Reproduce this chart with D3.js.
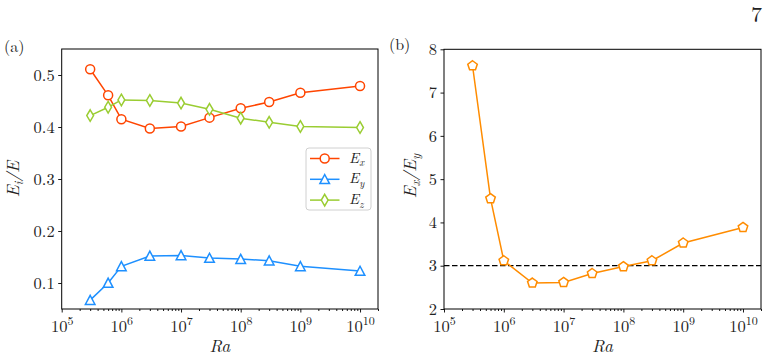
<!DOCTYPE html>
<html>
<head>
<meta charset="utf-8">
<script src="https://cdn.jsdelivr.net/npm/d3@7"></script>
<style>
  body { margin: 0; background: #fff; }
</style>
</head>
<body>
<div id="chart"></div>
<script>
// Rayleigh numbers (shared by both panels)
const ra = [3e5, 6e5, 1e6, 3e6, 1e7, 3e7, 1e8, 3e8, 1e9, 1e10];

// panel (a): energy fractions
const ex = [0.511, 0.461, 0.415, 0.397, 0.401, 0.418, 0.436, 0.448, 0.466, 0.479];
const ey = [0.067, 0.100, 0.132, 0.152, 0.153, 0.148, 0.146, 0.143, 0.132, 0.123];
const ez = [0.422, 0.438, 0.452, 0.451, 0.446, 0.434, 0.417, 0.409, 0.401, 0.399];

// panel (b): anisotropy ratio
const ratio = [7.62, 4.55, 3.115, 2.60, 2.615, 2.82, 2.98, 3.115, 3.525, 3.885];

const xTicks = [1e5, 1e6, 1e7, 1e8, 1e9, 1e10];
const yTicksA = [0.1, 0.2, 0.3, 0.4, 0.5];
const yTicksB = [2, 3, 4, 5, 6, 7, 8];

const width = 771, height = 360;
const serif = "Latin Modern Roman";

const svg = d3.select("#chart").append("svg")
    .attr("width", width)
    .attr("height", height)
    .attr("font-family", serif);

// marker shapes, roughly like matplotlib's o ^ d p
const markers = {
    circle: () => d3.symbol(d3.symbolCircle, Math.PI * 4.5 * 4.5)(),
    triangle: () => "M0,-4.8L-4.8,4.3L4.8,4.3Z",
    thinDiamond: () => "M0,-5.8L3.4,0L0,5.8L-3.4,0Z",
    pentagon: () => {
        const r = 5;
        const pts = d3.range(5).map(i => {
            const a = -Math.PI / 2 + i * 2 * Math.PI / 5;
            return [r * Math.cos(a), r * Math.sin(a)];
        });
        return "M" + pts.join("L") + "Z";
    }
};

const minorTicks = [];
for (let d = 5; d <= 10; d++) {
    for (let k = 2; k <= 9; k++) {
        const v = k * Math.pow(10, d);
        if (v <= 2e10) minorTicks.push(v);
    }
}

function drawPanel(left, right, top, bottom, yDomain, yTicks, yFmt) {
    const g = svg.append("g");
    const x = d3.scaleLog().domain([1e5, 2e10]).range([left, right]);
    const y = d3.scaleLinear().domain(yDomain).range([bottom, top]);

    // minor x ticks
    g.append("g")
        .attr("transform", `translate(0,${bottom})`)
        .call(d3.axisBottom(x).tickValues(minorTicks).tickSize(2).tickFormat(""))
        .call(a => a.select(".domain").remove());

    // major x ticks with 10^n labels
    const xa = g.append("g")
        .attr("transform", `translate(0,${bottom})`)
        .call(d3.axisBottom(x).tickValues(xTicks).tickSize(3.5).tickPadding(4).tickFormat(""));
    xa.select(".domain").remove();
    xa.selectAll(".tick text")
        .attr("font-size", 16.5)
        .attr("dy", "0.95em")
        .each(function (d) {
            const t = d3.select(this);
            t.append("tspan").text("10");
            t.append("tspan").attr("font-size", 12).attr("dy", -7).text(Math.round(Math.log10(d)));
        });

    const ya = g.append("g")
        .attr("transform", `translate(${left},0)`)
        .call(d3.axisLeft(y).tickValues(yTicks).tickSize(3.5).tickPadding(3.5).tickFormat(yFmt));
    ya.select(".domain").remove();
    ya.selectAll(".tick text").attr("font-size", 16.5);

    g.selectAll(".tick line").attr("stroke", "#000").attr("stroke-width", 0.9);

    // spines
    g.append("rect")
        .attr("x", left).attr("y", top)
        .attr("width", right - left).attr("height", bottom - top)
        .attr("fill", "none").attr("stroke", "#000").attr("stroke-width", 1);

    // x label
    g.append("text")
        .attr("x", (left + right) / 2).attr("y", 352)
        .attr("text-anchor", "middle")
        .attr("font-size", 17.5).attr("font-style", "italic")
        .text("Ra");

    return { g, x, y };
}

function drawSeries(p, values, color, shape) {
    const pts = ra.map((r, i) => [p.x(r), p.y(values[i])]);
    p.g.append("path")
        .attr("d", d3.line()(pts))
        .attr("fill", "none")
        .attr("stroke", color)
        .attr("stroke-width", 1.5);
    p.g.selectAll(null)
        .data(pts)
        .enter().append("path")
        .attr("transform", d => `translate(${d[0]},${d[1]})`)
        .attr("d", markers[shape]())
        .attr("fill", "#fff")
        .attr("stroke", color)
        .attr("stroke-width", 1.5);
}

// subscripted italic label, e.g. E_x
function subLabel(sel, base, sub, fs) {
    sel.append("tspan").attr("font-style", "italic").text(base);
    sel.append("tspan").attr("font-style", "italic").attr("font-size", fs * 0.7).attr("dy", fs * 0.25).text(sub);
}

// ---- panel (a)
const pa = drawPanel(61.7, 378, 49, 309, [0.05, 0.55], yTicksA, d3.format(".1f"));
drawSeries(pa, ex, "#ff4500", "circle");
drawSeries(pa, ey, "#1e90ff", "triangle");
drawSeries(pa, ez, "#9acd32", "thinDiamond");

const yla = svg.append("text")
    .attr("transform", "translate(19,179) rotate(-90)")
    .attr("text-anchor", "middle")
    .attr("font-size", 17.5);
subLabel(yla, "E", "i", 17.5);
yla.append("tspan").attr("font-style", "italic").attr("dy", -17.5 * 0.25).text("/E");

// legend
const legendItems = [
    { name: "x", color: "#ff4500", shape: "circle" },
    { name: "y", color: "#1e90ff", shape: "triangle" },
    { name: "z", color: "#9acd32", shape: "thinDiamond" }
];
const lg = svg.append("g");
lg.append("rect")
    .attr("x", 306).attr("y", 148)
    .attr("width", 65).attr("height", 62)
    .attr("rx", 3)
    .attr("fill", "#fff").attr("fill-opacity", 0.8)
    .attr("stroke", "#d0d0d0").attr("stroke-width", 1);
legendItems.forEach((d, i) => {
    const yy = 158.5 + i * 20.8;
    lg.append("line")
        .attr("x1", 310).attr("x2", 339.5)
        .attr("y1", yy).attr("y2", yy)
        .attr("stroke", d.color).attr("stroke-width", 1.5);
    lg.append("path")
        .attr("transform", `translate(324.7,${yy})`)
        .attr("d", markers[d.shape]())
        .attr("fill", "#fff").attr("stroke", d.color).attr("stroke-width", 1.5);
    const t = lg.append("text")
        .attr("x", 349).attr("y", yy + 4)
        .attr("font-size", 15);
    subLabel(t, "E", d.name, 15);
});

// ---- panel (b)
const pb = drawPanel(444, 761, 49.3, 309, [2, 8], yTicksB, d3.format("d"));
pb.g.append("line")
    .attr("x1", pb.x(1e5)).attr("x2", pb.x(2e10))
    .attr("y1", pb.y(3)).attr("y2", pb.y(3))
    .attr("stroke", "#000").attr("stroke-width", 1.3)
    .attr("stroke-dasharray", "5.5,2.5");
drawSeries(pb, ratio, "#ff8c00", "pentagon");

const ylb = svg.append("text")
    .attr("transform", "translate(416,176) rotate(-90)")
    .attr("text-anchor", "middle")
    .attr("font-size", 17.5);
subLabel(ylb, "E", "x", 17.5);
ylb.append("tspan").attr("font-style", "italic").attr("dy", -17.5 * 0.25).text("/E");
subLabel(ylb, "", "y", 17.5);

// panel tags and page number
svg.append("text").attr("x", 4).attr("y", 52).attr("font-size", 16).text("(a)");
svg.append("text").attr("x", 389).attr("y", 50).attr("font-size", 16).text("(b)");
svg.append("text").attr("x", 751).attr("y", 22).attr("font-size", 22).text("7");

// every label in Latin Modern, overriding the axis defaults
svg.selectAll("text").attr("font-family", serif).attr("fill", "#222");
</script>
</body>
</html>
